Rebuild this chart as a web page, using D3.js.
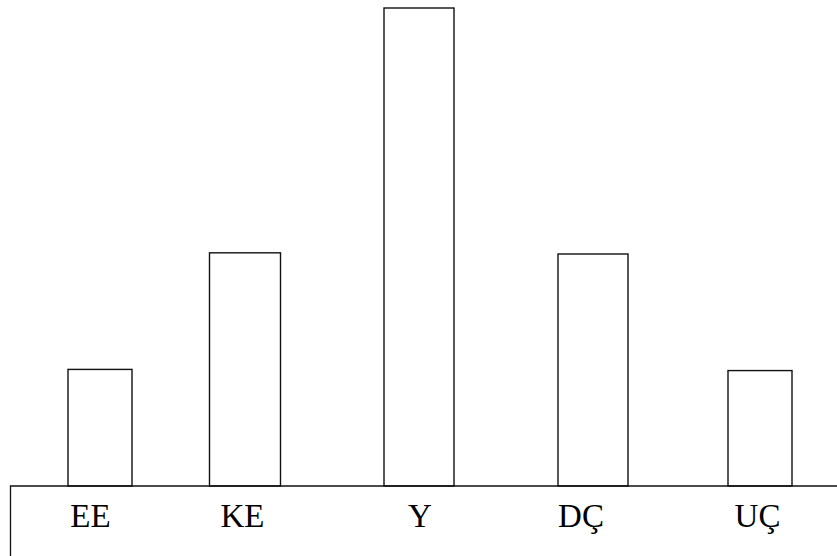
<!DOCTYPE html>
<html>
<head>
<meta charset="utf-8">
<script src="https://cdn.jsdelivr.net/npm/d3@7"></script>
<style>
html,body{margin:0;padding:0;background:#fff;}
svg{display:block;}
text.lbl{font-family:"Liberation Serif","Times New Roman",Times,serif;}
</style>
</head>
<body>
<script>
// Data
const categories = ["EE", "KE", "Y", "DÇ", "UÇ"];
const values = [10, 20, 41, 19.9, 9.9];

// Layout
const W = 837, H = 556;
const baseY = 486, topY = 8;
const svg = d3.select("body").append("svg").attr("width", W).attr("height", H);

const barCenter = d3.scaleOrdinal().domain(categories).range([100, 245, 419, 593, 760]);
const barWidth = d3.scaleOrdinal().domain(categories).range([64, 71, 70, 70, 64]);
const labelCenter = d3.scaleOrdinal().domain(categories).range([90.5, 242.5, 420, 581, 757.5]);
const y = d3.scaleLinear().domain([0, d3.max(values)]).range([baseY, topY]);

const data = categories.map((c, i) => ({c, v: values[i]}));

// Bars
svg.selectAll("rect.bar").data(data).join("rect")
  .attr("class", "bar")
  .attr("x", d => barCenter(d.c) - barWidth(d.c) / 2)
  .attr("width", d => barWidth(d.c))
  .attr("y", d => y(d.v))
  .attr("height", d => baseY - y(d.v))
  .attr("fill", "#fff")
  .attr("stroke", "#111")
  .attr("stroke-width", 1.4);

// Baseline box
svg.append("path")
  .attr("d", `M10.5,${H} L10.5,${baseY} L${W},${baseY}`)
  .attr("fill", "none")
  .attr("stroke", "#111")
  .attr("stroke-width", 1.3);

// Labels
svg.selectAll("text.lbl").data(data).join("text")
  .attr("class", "lbl")
  .attr("x", d => labelCenter(d.c))
  .attr("y", 527)
  .attr("text-anchor", "middle")
  .attr("font-size", 33)
  .attr("fill", "#000")
  .text(d => d.c);
</script>
</body>
</html>
